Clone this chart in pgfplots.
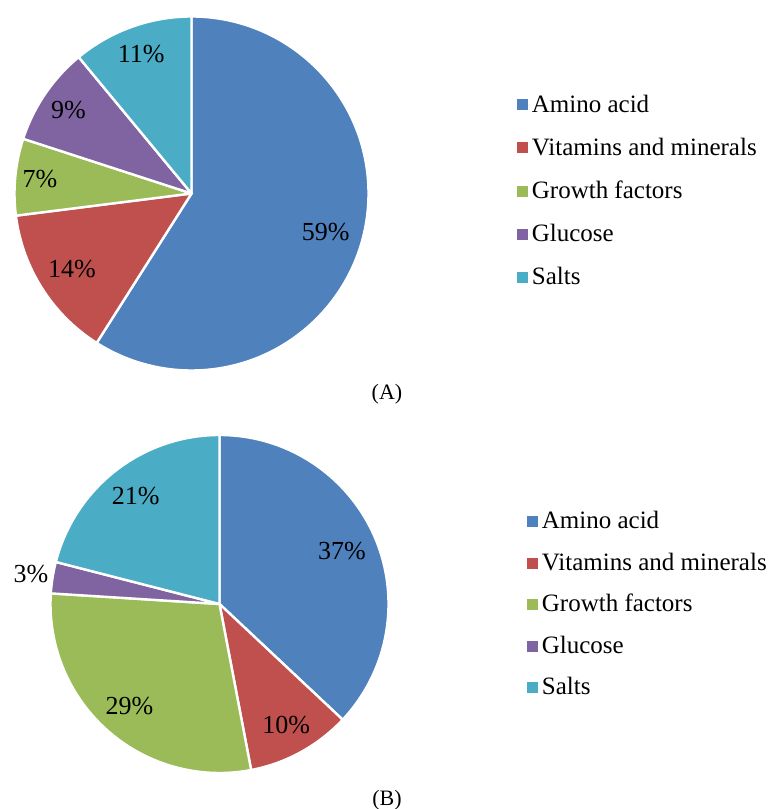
\documentclass[border=0pt]{standalone}
\usepackage{pgfplots}
\usepackage{pgfplotstable}
\usepackage{fontspec}
\setmainfont{Liberation Serif}
\pgfplotsset{compat=1.18}

\definecolor{pie0}{HTML}{4F81BD}
\definecolor{pie1}{HTML}{C0504D}
\definecolor{pie2}{HTML}{9BBB59}
\definecolor{pie3}{HTML}{8064A2}
\definecolor{pie4}{HTML}{4BACC6}

% share of each part (%), and where its label sits (fraction of the radius)
\pgfplotstableread{
value lr
59 0.79
14 0.80
7  0.86
9  0.84
11 0.84
}\dataA
\pgfplotstableread{
value lr
37 0.79
10 0.82
29 0.805
3  1.13
21 0.81
}\dataB

\newcommand\pctfont{\rmfamily\fontsize{13}{15}\selectfont}

% #1 table, #2 #3 centre in axis units, #4 radius in pt
\newcommand\drawpie[4]{%
  \pgfplotstablegetrowsof{#1}%
  \pgfmathtruncatemacro\nrows{\pgfplotsretval-1}%
  \def\cum{0}%
  \pgfplotsforeachungrouped \i in {0,...,\nrows}{%
    \pgfplotstablegetelem{\i}{value}\of{#1}\let\v\pgfplotsretval
    \pgfplotstablegetelem{\i}{lr}\of{#1}\let\lr\pgfplotsretval
    \pgfmathsetmacro\sa{90-3.6*\cum}%
    \pgfmathsetmacro\ea{90-3.6*(\cum+\v)}%
    \pgfmathsetmacro\ma{(\sa+\ea)/2}%
    \pgfmathsetmacro\lrr{\lr*#4}%
    \pgfmathsetmacro\cum{\cum+\v}%
    \edef\temp{\noexpand\filldraw[fill=pie\i, draw=white, line width=1.2pt, line join=round]
      (axis cs:#2,#3) -- ++(\sa:#4pt) arc[start angle=\sa, end angle=\ea, radius=#4pt] -- cycle;
      \noexpand\path (axis cs:#2,#3) ++(\ma:\lrr pt) node[font=\noexpand\pctfont] {\v\noexpand\%};}%
    \temp
  }%
}

\pgfplotsset{
  canvas/.style={
    at={(0,0)}, anchor=south west,
    scale only axis, width=385pt, height=404.5pt,
    xmin=0, xmax=770, ymin=0, ymax=809,
    hide axis, clip=false,
    legend cell align=left,
    legend image code/.code={\fill[##1] (0pt,-2.5pt) rectangle (5pt,2.5pt);},
    legend style={draw=none, fill=none, font=\rmfamily\fontsize{12.5}{15}\selectfont,
      inner sep=0pt},
  },
}

\begin{document}
\begin{tikzpicture}
% (A)
\begin{axis}[canvas, legend style={at={(0.671,0.764)}, anchor=west, row sep=7.3pt}]
\drawpie{\dataA}{191.5}{615.5}{88.5}
\addlegendimage{pie0}\addlegendentry{Amino acid}
\addlegendimage{pie1}\addlegendentry{Vitamins and minerals}
\addlegendimage{pie2}\addlegendentry{Growth factors}
\addlegendimage{pie3}\addlegendentry{Glucose}
\addlegendimage{pie4}\addlegendentry{Salts}
\node[font=\fontsize{11}{13}\selectfont] at (axis cs:387,415) {(A)};
\end{axis}
% (B)
\begin{axis}[canvas, legend style={at={(0.684,0.2528)}, anchor=west, row sep=6.5pt}]
\drawpie{\dataB}{219.5}{205}{84.5}
\addlegendimage{pie0}\addlegendentry{Amino acid}
\addlegendimage{pie1}\addlegendentry{Vitamins and minerals}
\addlegendimage{pie2}\addlegendentry{Growth factors}
\addlegendimage{pie3}\addlegendentry{Glucose}
\addlegendimage{pie4}\addlegendentry{Salts}
\node[font=\fontsize{11}{13}\selectfont] at (axis cs:387,9) {(B)};
\end{axis}
\pgfresetboundingbox
\useasboundingbox (0,0) rectangle (385pt,404.5pt);
\end{tikzpicture}
\end{document}
